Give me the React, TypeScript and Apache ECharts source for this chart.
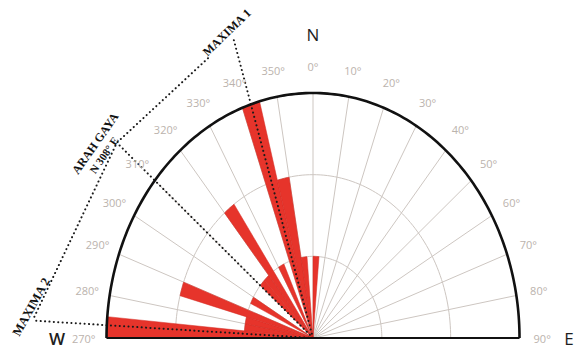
import React, { useEffect, useRef } from 'react';
import * as echarts from 'echarts';

// ---- data ----
const binStarts = [270, 275, 280, 285, 290, 295, 300, 305, 310, 315, 320, 325, 330, 335, 340, 345, 350, 355,
  0, 5, 10, 15, 20, 25, 30, 35, 40, 45, 50, 55, 60, 65, 70, 75, 80, 85];
const binCounts = [3, 1, 1, 2, 0, 1, 0, 0, 1, 1, 2, 0, 1, 0, 3, 2, 1, 0,
  1, 0, 0, 0, 0, 0, 0, 0, 0, 0, 0, 0, 0, 0, 0, 0, 0, 0];
const binWidth = 5;
const maxCount = 3;
const ringCounts = [1, 2, 3];
const spokeAngles = [270, 280, 290, 300, 310, 320, 330, 340, 350, 0, 10, 20, 30, 40, 50, 60, 70, 80, 90];
const tickLabels = ['270°', '280°', '290°', '300°', '310°', '320°', '330°', '340°', '350°', '0°', '10°', '20°', '30°', '40°', '50°', '60°', '70°', '80°', '90°'];
const compassNames = ['N', 'E', 'W'];
const compassAngles = [0, 90, 270];
// dotted annotation lines, as [angle, radius] points (radius in units of the outer ring)
const annotLines = [
  [[0, 0], [342.5, 1.29]],
  [[336, 1.25], [310, 1.24], [273, 1.36]],
  [[0, 0], [310, 1.24]],
  [[0, 0], [273, 1.36]],
];
const annotTexts = ['MAXIMA 1', 'ARAH GAYA', 'N 308° E', 'MAXIMA 2'];
const annotAt = [[341.5, 1.315], [307.0, 1.32], [306.4, 1.258], [275.3, 1.37]];
const annotRot = [44, 55, 55, 61];
const annotSize = [12, 12, 11, 12.5];

// ---- layout ----
const W = 579, H = 349, CX = 313, CY = 338, RX = 206.5, RY = 245;
const GRID = '#cdc6c1';
const RED = '#e6342b';

const cont = (a: number) => (a < 270 ? a + 360 : a);
const P = (api: any, a: number, r: number) => {
  const t = (a * Math.PI) / 180;
  return api.coord([r * Math.sin(t), r * Math.cos(t)]);
};
const arcPts = (api: any, r: number, a0: number, a1: number, n: number) => {
  const pts: number[][] = [];
  for (let k = 0; k <= n; k++) pts.push(P(api, a0 + ((a1 - a0) * k) / n, r));
  return pts;
};

export default function App() {
  const ref = useRef<HTMLDivElement>(null);
  useEffect(() => {
    if (!ref.current) return;
    const chart = echarts.init(ref.current, undefined, { renderer: 'svg' });
    const base = { type: 'custom', coordinateSystem: 'cartesian2d', silent: true, clip: false } as any;
    chart.setOption({
      animation: false,
      backgroundColor: '#ffffff',
      grid: { left: 0, right: 0, top: 0, bottom: 0, containLabel: false },
      xAxis: { type: 'value', min: -CX / RX, max: (W - CX) / RX, show: false },
      yAxis: { type: 'value', min: -(H - CY) / RY, max: CY / RY, show: false },
      series: [
        {
          ...base,
          data: ringCounts.map((c) => [0, c]),
          renderItem: (p: any, api: any) => ({
            type: 'polyline',
            shape: { points: arcPts(api, ringCounts[p.dataIndex] / maxCount, 270, 450, 120) },
            style: { stroke: GRID, lineWidth: 1, fill: 'none' },
          }),
        },
        {
          ...base,
          data: spokeAngles.map((a) => [0, a]),
          renderItem: (p: any, api: any) => {
            const a = cont(spokeAngles[p.dataIndex]);
            const c = P(api, 0, 0);
            const e = P(api, a, 1);
            return { type: 'line', shape: { x1: c[0], y1: c[1], x2: e[0], y2: e[1] }, style: { stroke: GRID, lineWidth: 1 } };
          },
        },
        {
          ...base,
          data: binStarts.map((a, i) => [a, binCounts[i]]),
          renderItem: (p: any, api: any) => {
            const i = p.dataIndex;
            const r = binCounts[i] / maxCount;
            if (r <= 0) return null;
            const a0 = cont(binStarts[i]);
            const pts = [P(api, 0, 0), ...arcPts(api, r, a0, a0 + binWidth, 8)];
            return { type: 'polygon', shape: { points: pts }, style: { fill: RED, stroke: '#d52a22', lineWidth: 0.5 } };
          },
        },
        {
          ...base,
          data: annotLines.map((_, i) => [0, i]),
          renderItem: (p: any, api: any) => ({
            type: 'polyline',
            shape: { points: annotLines[p.dataIndex].map(([a, r]) => P(api, a, r)) },
            style: { stroke: '#1a1a1a', lineWidth: 2, lineDash: [0.1, 4.3], lineCap: 'round', fill: 'none' },
          }),
        },
        {
          ...base,
          data: [[0, 0]],
          renderItem: (p: any, api: any) => {
            const l = P(api, 270, 1);
            const r = P(api, 90, 1);
            return {
              type: 'group',
              children: [
                { type: 'polyline', shape: { points: arcPts(api, 1, 270, 450, 180) }, style: { stroke: '#111', lineWidth: 2.6, fill: 'none' } },
                { type: 'line', shape: { x1: l[0], y1: l[1], x2: r[0], y2: r[1] }, style: { stroke: '#111', lineWidth: 2.2 } },
              ],
            };
          },
        },
        {
          ...base,
          data: spokeAngles.map((a) => [0, a]),
          renderItem: (p: any, api: any) => {
            const pt = P(api, cont(spokeAngles[p.dataIndex]), 1.11);
            return {
              type: 'text',
              x: pt[0],
              y: pt[1],
              style: {
                text: tickLabels[p.dataIndex], fill: '#bbb3ad', fontSize: 11, fontFamily: 'Open Sans',
                align: 'center', verticalAlign: 'middle',
              },
            };
          },
        },
        {
          ...base,
          data: compassNames.map((_, i) => [0, i]),
          renderItem: (p: any, api: any) => {
            const i = p.dataIndex;
            const pt = P(api, cont(compassAngles[i]), 1.24);
            return {
              type: 'text',
              x: pt[0],
              y: pt[1],
              style: {
                text: compassNames[i], fill: '#1e1e1e', fontSize: 17, fontFamily: 'Open Sans',
                fontWeight: compassNames[i] === 'W' ? 600 : 400, align: 'center', verticalAlign: 'middle',
              },
            };
          },
        },
        {
          ...base,
          data: annotTexts.map((_, i) => [0, i]),
          renderItem: (p: any, api: any) => {
            const i = p.dataIndex;
            const pt = P(api, annotAt[i][0], annotAt[i][1]);
            return {
              type: 'text',
              x: pt[0],
              y: pt[1],
              rotation: (annotRot[i] * Math.PI) / 180,
              style: {
                text: annotTexts[i], fill: '#111', fontSize: annotSize[i], fontFamily: 'Liberation Serif',
                fontWeight: 'bold', align: 'center', verticalAlign: 'middle',
              },
            };
          },
        },
      ],
    });
    return () => chart.dispose();
  }, []);
  return <div ref={ref} style={{ position: 'fixed', left: 0, top: 0, width: W, height: H }} />;
}
